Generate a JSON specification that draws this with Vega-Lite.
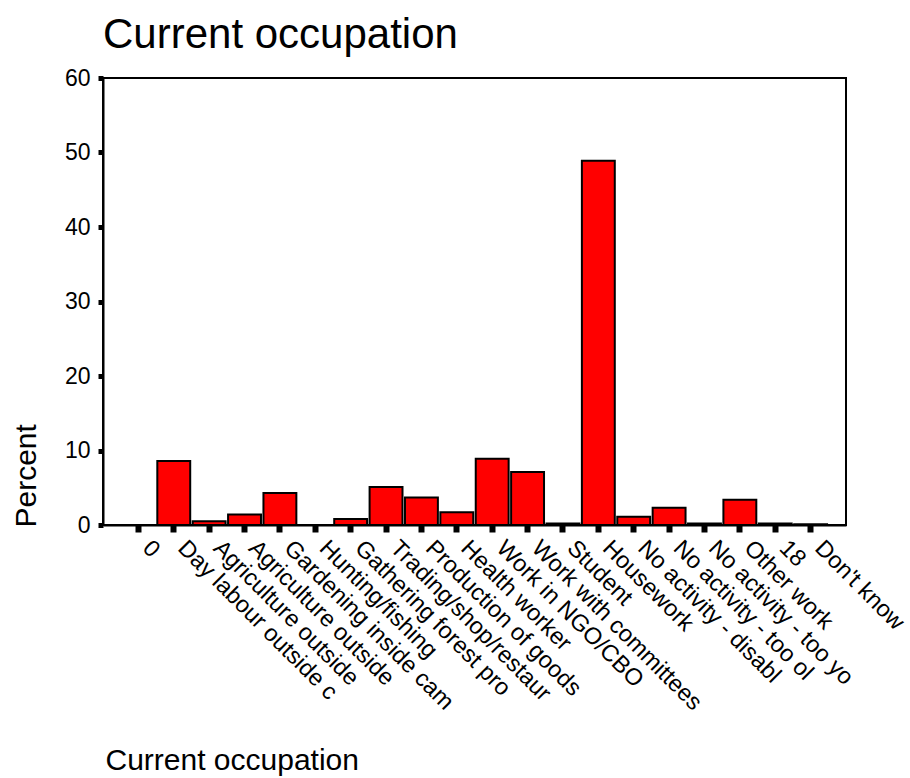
{
  "$schema": "https://vega.github.io/schema/vega-lite/v6.json",
  "width": 743,
  "height": 447,
  "autosize": {"type": "none"},
  "padding": {"left": 103, "top": 78, "right": 64, "bottom": 253},
  "background": "white",
  "title": {
    "text": "Current occupation",
    "anchor": "start",
    "frame": "group",
    "baseline": "bottom",
    "offset": 19,
    "dy": 51,
    "fontSize": 42,
    "font": "Liberation Sans",
    "fontWeight": "normal",
    "color": "black"
  },
  "config": {
    "view": {"stroke": "black", "strokeWidth": 2},
    "axis": {
      "labelFont": "Liberation Sans",
      "titleFont": "Liberation Sans",
      "labelColor": "black",
      "titleColor": "black",
      "domainColor": "black",
      "tickColor": "black",
      "domainWidth": 2,
      "grid": false,
      "titleFontWeight": "normal"
    }
  },
  "data": {
    "values": [
      {"cat": "0", "pct": 0},
      {"cat": "Day labour outside c", "pct": 8.6},
      {"cat": "Agriculture outside", "pct": 0.5},
      {"cat": "Agriculture outside ", "pct": 1.4},
      {"cat": "Gardening inside cam", "pct": 4.3},
      {"cat": "Hunting/fishing", "pct": 0},
      {"cat": "Gathering forest pro", "pct": 0.8},
      {"cat": "Trading/shop/restaur", "pct": 5.1},
      {"cat": "Production of goods", "pct": 3.7},
      {"cat": "Health worker", "pct": 1.7},
      {"cat": "Work in NGO/CBO", "pct": 8.9},
      {"cat": "Work with committees", "pct": 7.1},
      {"cat": "Student", "pct": 0.2},
      {"cat": "Housework", "pct": 48.9},
      {"cat": "No activity - disabl", "pct": 1.1},
      {"cat": "No activity - too ol", "pct": 2.3},
      {"cat": "No activity - too yo", "pct": 0.2},
      {"cat": "Other work", "pct": 3.4},
      {"cat": "18", "pct": 0.2},
      {"cat": "Don't know", "pct": 0.1}
    ]
  },
  "mark": {"type": "bar", "fill": "#ff0000", "stroke": "black", "strokeWidth": 2},
  "encoding": {
    "x": {
      "field": "cat",
      "type": "nominal",
      "sort": null,
      "scale": {"paddingInner": 0.07, "paddingOuter": 0.535},
      "axis": {
        "title": "Current occupation",
        "titleFontSize": 30,
        "titleAnchor": "start",
        "titleAlign": "left",
        "titleBaseline": "alphabetic",
        "titleX": 2,
        "titleY": 244,
        "labelAngle": 45,
        "labelAlign": "left",
        "labelBaseline": "middle",
        "labelFontSize": 23.5,
        "labelOffset": 8,
        "labelPadding": 12,
        "labelOverlap": false,
        "labelLimit": 0,
        "tickSize": 7,
        "tickWidth": 6
      }
    },
    "y": {
      "field": "pct",
      "type": "quantitative",
      "scale": {"domain": [0, 60], "nice": false},
      "axis": {
        "title": "Percent",
        "values": [0, 10, 20, 30, 40, 50, 60],
        "titleFontSize": 30,
        "titleAngle": -90,
        "titleAlign": "left",
        "titleBaseline": "alphabetic",
        "titleX": -68,
        "titleY": 449,
        "labelFontSize": 23,
        "labelPadding": 8,
        "tickSize": 5,
        "tickWidth": 5
      }
    }
  }
}
